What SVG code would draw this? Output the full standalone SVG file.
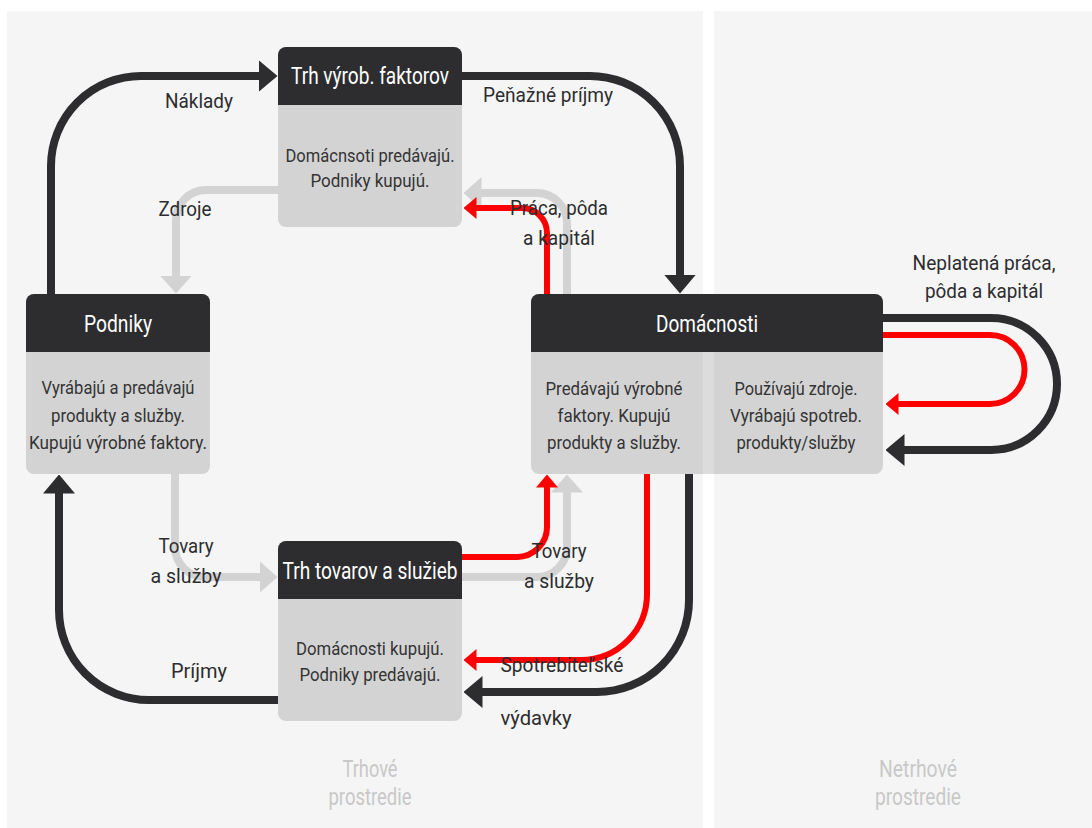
<svg xmlns="http://www.w3.org/2000/svg" width="1092" height="828" viewBox="0 0 1092 828">
<style>
.bg{fill:#f5f5f5}
.hd{fill:#2d2d2f}
.bd{fill:#000;fill-opacity:0.138}
.c{fill:none;stroke-linecap:butt;stroke-linejoin:round}
.dk{stroke:#2d2d2f;stroke-width:8}
.rd{stroke:#ff0000;stroke-width:6}
.gy{stroke:#d3d3d3;stroke-width:8}
text{font-family:Roboto,"Liberation Sans",sans-serif;text-anchor:middle}
.tt{fill:#ffffff;font-size:23px}
.bt{fill:#333333;font-size:19px}
.lb{fill:#2d2d2f;font-size:21px}
.env{fill:#c8c8c8;font-size:24px}
</style>
<defs>
<marker id="ad" markerUnits="userSpaceOnUse" viewBox="0 -16 19 32" markerWidth="19" markerHeight="32" refX="0.5" refY="0" orient="auto"><path d="M0,-16 L19,0 L0,16 Z" fill="#2d2d2f"/></marker>
<marker id="ar" markerUnits="userSpaceOnUse" viewBox="0 -11 13 22" markerWidth="13" markerHeight="22" refX="0.5" refY="0" orient="auto"><path d="M0,-11 L13,0 L0,11 Z" fill="#ff0000"/></marker>
<marker id="ag" markerUnits="userSpaceOnUse" viewBox="0 -16 18 32" markerWidth="18" markerHeight="32" refX="0.5" refY="0" orient="auto"><path d="M0,-16 L18,0 L0,16 Z" fill="#d3d3d3"/></marker>
</defs>
<g id="background">
<rect x="0" y="0" width="1092" height="828" fill="#ffffff"/>
<rect class="bg" x="7" y="11" width="696" height="817"/>
<rect class="bg" x="714" y="11" width="378" height="817"/>
<text class="env" x="370" y="777" textLength="55" lengthAdjust="spacingAndGlyphs">Trhové</text>
<text class="env" x="370" y="805" textLength="83" lengthAdjust="spacingAndGlyphs">prostredie</text>
<text class="env" x="918" y="777" textLength="78" lengthAdjust="spacingAndGlyphs">Netrhové</text>
<text class="env" x="918" y="805" textLength="86" lengthAdjust="spacingAndGlyphs">prostredie</text>
</g>
<g id="connectors">
<path class="c dk" d="M51,294 V166 A90,90 0 0 1 141,76 H259" marker-end="url(#ad)"/>
<path class="c dk" d="M462,76 H590 A90,90 0 0 1 680,166 V275" marker-end="url(#ad)"/>
<path class="c gy" d="M278,190 H206 A30,30 0 0 0 176,220 V276" marker-end="url(#ag)"/>
<path class="c gy" d="M567,294 V223 A30,30 0 0 0 537,193 H481" marker-end="url(#ag)"/>
<path class="c rd" d="M547,294 V233 A25,25 0 0 0 522,208 H476" marker-end="url(#ar)"/>
<path class="c gy" d="M175,474 V547 A30,30 0 0 0 205,577 H260" marker-end="url(#ag)"/>
<path class="c gy" d="M462,577 H537 A30,30 0 0 0 567,547 V492" marker-end="url(#ag)"/>
<path class="c rd" d="M462,557 H517 A30,30 0 0 0 547,527 V487" marker-end="url(#ar)"/>
<path class="c rd" d="M647,474 V594 A66,66 0 0 1 581,660 H476" marker-end="url(#ar)"/>
<path class="c dk" d="M689,474 V600 A92,92 0 0 1 597,692 H482" marker-end="url(#ad)"/>
<path class="c dk" d="M278,700 H149 A90,90 0 0 1 59,610 V493" marker-end="url(#ad)"/>
<path class="c dk" d="M883,318 H991 A66,66 0 0 1 991,450 H904" marker-end="url(#ad)"/>
<path class="c rd" d="M883,335 H990 A34.5,34.5 0 0 1 990,404 H898" marker-end="url(#ar)"/>
</g>
<g id="labels">
<text class="lb" x="199" y="108" textLength="68" lengthAdjust="spacingAndGlyphs">Náklady</text>
<text class="lb" x="548" y="102" textLength="130" lengthAdjust="spacingAndGlyphs">Peňažné príjmy</text>
<text class="lb" x="185" y="216" textLength="53" lengthAdjust="spacingAndGlyphs">Zdroje</text>
<text class="lb" x="559" y="215" textLength="98" lengthAdjust="spacingAndGlyphs">Práca, pôda</text>
<text class="lb" x="559" y="245" textLength="72" lengthAdjust="spacingAndGlyphs">a kapitál</text>
<text class="lb" x="984" y="270" textLength="143" lengthAdjust="spacingAndGlyphs">Neplatená práca,</text>
<text class="lb" x="984" y="298" textLength="118" lengthAdjust="spacingAndGlyphs">pôda a kapitál</text>
<text class="lb" x="186" y="553" textLength="55" lengthAdjust="spacingAndGlyphs">Tovary</text>
<text class="lb" x="186" y="583" textLength="71" lengthAdjust="spacingAndGlyphs">a služby</text>
<text class="lb" x="559" y="558" textLength="55" lengthAdjust="spacingAndGlyphs">Tovary</text>
<text class="lb" x="559" y="588" textLength="70" lengthAdjust="spacingAndGlyphs">a služby</text>
<text class="lb" x="199" y="678" textLength="56" lengthAdjust="spacingAndGlyphs">Príjmy</text>
<text class="lb" x="562" y="672" textLength="123" lengthAdjust="spacingAndGlyphs">Spotrebiteľské</text>
<text class="lb" x="536" y="725" textLength="71" lengthAdjust="spacingAndGlyphs">výdavky</text>
</g>
<g id="trh-vyrob-faktorov">
<rect class="bd" x="278" y="47" width="184" height="180" rx="8"/>
<path class="hd" d="M278,105 V55 A8,8 0 0 1 286,47 H454 A8,8 0 0 1 462,55 V105 Z"/>
<text class="tt" x="370" y="84" textLength="158" lengthAdjust="spacingAndGlyphs">Trh výrob. faktorov</text>
<text class="bt" x="370" y="161.5" textLength="169" lengthAdjust="spacingAndGlyphs">Domácnsoti predávajú.</text>
<text class="bt" x="370" y="187" textLength="119" lengthAdjust="spacingAndGlyphs">Podniky kupujú.</text>
</g>
<g id="podniky">
<rect class="bd" x="26" y="294" width="184" height="180" rx="8"/>
<path class="hd" d="M26,352 V302 A8,8 0 0 1 34,294 H202 A8,8 0 0 1 210,302 V352 Z"/>
<text class="tt" x="118" y="332" textLength="68" lengthAdjust="spacingAndGlyphs">Podniky</text>
<text class="bt" x="118" y="394" textLength="153" lengthAdjust="spacingAndGlyphs">Vyrábajú a predávajú</text>
<text class="bt" x="118" y="421.5" textLength="134" lengthAdjust="spacingAndGlyphs">produkty a služby.</text>
<text class="bt" x="118" y="449" textLength="178" lengthAdjust="spacingAndGlyphs">Kupujú výrobné faktory.</text>
</g>
<g id="domacnosti">
<rect class="bd" x="531" y="294" width="352" height="180" rx="8"/>
<path class="hd" d="M531,352 V302 A8,8 0 0 1 539,294 H875 A8,8 0 0 1 883,302 V352 Z"/>
<text class="tt" x="707" y="332" textLength="102" lengthAdjust="spacingAndGlyphs">Domácnosti</text>
<text class="bt" x="614" y="395" textLength="137" lengthAdjust="spacingAndGlyphs">Predávajú výrobné</text>
<text class="bt" x="614" y="421.5" textLength="113" lengthAdjust="spacingAndGlyphs">faktory. Kupujú</text>
<text class="bt" x="614" y="448.5" textLength="134" lengthAdjust="spacingAndGlyphs">produkty a služby.</text>
<text class="bt" x="796" y="395" textLength="123" lengthAdjust="spacingAndGlyphs">Používajú zdroje.</text>
<text class="bt" x="796" y="421.5" textLength="132" lengthAdjust="spacingAndGlyphs">Vyrábajú spotreb.</text>
<text class="bt" x="796" y="448.5" textLength="119" lengthAdjust="spacingAndGlyphs">produkty/služby</text>
</g>
<g id="trh-tovarov-a-sluzieb">
<rect class="bd" x="278" y="541" width="184" height="180" rx="8"/>
<path class="hd" d="M278,599 V549 A8,8 0 0 1 286,541 H454 A8,8 0 0 1 462,549 V599 Z"/>
<text class="tt" x="370" y="579" textLength="175" lengthAdjust="spacingAndGlyphs">Trh tovarov a služieb</text>
<text class="bt" x="370" y="655" textLength="148" lengthAdjust="spacingAndGlyphs">Domácnosti kupujú.</text>
<text class="bt" x="370" y="680.5" textLength="141" lengthAdjust="spacingAndGlyphs">Podniky predávajú.</text>
</g>
</svg>
